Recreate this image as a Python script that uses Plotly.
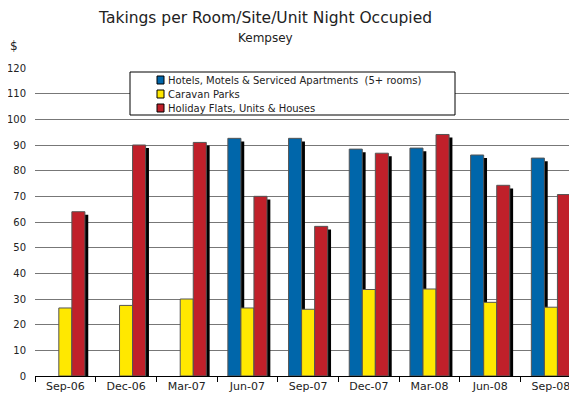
import plotly.graph_objects as go

categories = ["Sep-06", "Dec-06", "Mar-07", "Jun-07", "Sep-07", "Dec-07", "Mar-08", "Jun-08", "Sep-08"]
hotels = [None, None, None, 92.6, 92.6, 88.4, 88.8, 86.1, 84.9]
caravan = [26.5, 27.5, 30.0, 26.5, 26.0, 33.7, 33.9, 28.7, 26.8]
holiday = [64.0, 90.0, 91.0, 70.0, 58.3, 86.8, 94.1, 74.3, 70.7]

series_names = ["Hotels, Motels & Serviced Apartments  (5+ rooms)", "Caravan Parks", "Holiday Flats, Units & Houses"]
series_values = [hotels, caravan, holiday]
colors = ["#0066AA", "#FFE800", "#C0202A"]

FONT = "DejaVu Sans"
TXT = "#222222"
OFF = 8  # default page body margin
W, H = 577 - OFF, 403 - OFF
PLOT_L, PLOT_R, PLOT_T, PLOT_B = 35, 577, 68, 376  # in page pixels
PW, PH = PLOT_R - PLOT_L, PLOT_B - PLOT_T


def px(x):
    return (x - PLOT_L) / PW


def py(y):
    return (PLOT_B - y) / PH


bw = 0.215
offsets = [-1.5 * bw, -0.5 * bw, 0.5 * bw]
shadow_dx = 0.055
shadow_dy = 1.2

fig = go.Figure()
for vals, off in zip(series_values, offsets):
    sv = [None if v is None else v - shadow_dy for v in vals]
    fig.add_trace(go.Bar(x=categories, y=sv, width=bw, offset=off + shadow_dx,
                         marker=dict(color="black", line=dict(width=0)),
                         showlegend=False, hoverinfo="skip"))
for name, vals, off, c in zip(series_names, series_values, offsets, colors):
    fig.add_trace(go.Bar(x=categories, y=vals, width=bw, offset=off, name=name,
                         showlegend=False,
                         marker=dict(color=c, line=dict(color="#555555", width=1))))

fig.update_layout(
    width=W, height=H,
    margin=dict(l=PLOT_L - OFF, r=W - (PLOT_R - OFF), t=PLOT_T - OFF, b=H - (PLOT_B - OFF), autoexpand=False),
    barmode="overlay",
    plot_bgcolor="white", paper_bgcolor="white",
    font=dict(family=FONT, size=11, color=TXT),
    showlegend=False,
)

fig.add_annotation(text="Takings per Room/Site/Unit Night Occupied", xref="paper", yref="paper",
                   x=px(265), y=py(18), xanchor="center", yanchor="middle",
                   showarrow=False, font=dict(size=15.5, family=FONT, color=TXT))
fig.add_annotation(text="Kempsey", xref="paper", yref="paper",
                   x=px(265), y=py(38), xanchor="center", yanchor="middle",
                   showarrow=False, font=dict(size=12, family=FONT, color=TXT))
fig.add_annotation(text="$", xref="paper", yref="paper",
                   x=px(14), y=py(46), xanchor="center", yanchor="middle",
                   showarrow=False, font=dict(size=12, family=FONT, color=TXT))

# manual legend box
fig.add_shape(type="rect", xref="paper", yref="paper", x0=px(130), x1=px(455), y0=py(115), y1=py(72),
              line=dict(color="black", width=1), fillcolor="white", layer="above")
row_y = [80, 94, 108]
for name, c, ry in zip(series_names, colors, row_y):
    fig.add_shape(type="rect", xref="paper", yref="paper", x0=px(157), x1=px(164), y0=py(ry + 4), y1=py(ry - 4),
                  line=dict(color="black", width=1), fillcolor=c, layer="above")
    fig.add_annotation(text=name, xref="paper", yref="paper", x=px(166), y=py(ry),
                       xanchor="left", yanchor="middle", showarrow=False,
                       font=dict(size=10, family=FONT, color=TXT))

fig.update_xaxes(type="category", range=[-0.5, 8.43], tickson="boundaries",
                 ticks="outside", ticklen=5, tickcolor="black", showline=True,
                 linecolor="black", linewidth=1, showgrid=False, automargin=False,
                 tickfont=dict(size=11, family=FONT))
fig.update_yaxes(range=[0, 120], dtick=10, showgrid=True, gridcolor="#777777", gridwidth=1,
                 zeroline=False, showline=False, ticks="", ticklabelstandoff=8, automargin=False,
                 tickfont=dict(size=10, family=FONT))

fig.write_html("out.html")
